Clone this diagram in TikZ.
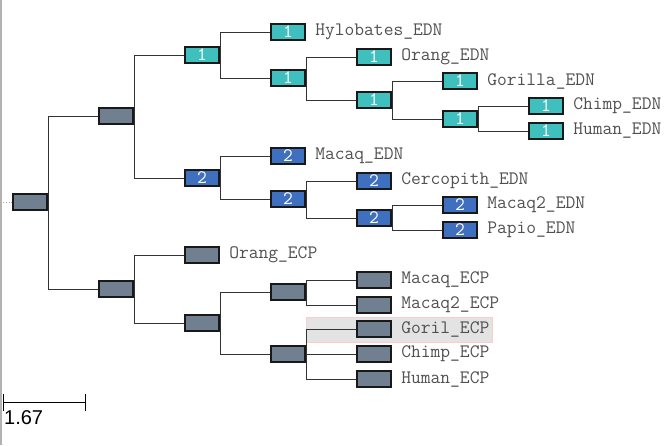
\documentclass[tikz,border=0pt]{standalone}
\usepackage{fontspec}
\setsansfont{Liberation Sans}
\usetikzlibrary{arrows.meta,positioning}
\definecolor{TreeTeal}{HTML}{40BFBF}
\definecolor{TreeBlue}{HTML}{3F6FBF}
\definecolor{TreeSlate}{HTML}{708090}
\definecolor{TreeLabel}{HTML}{505050}

\begin{document}
\begin{tikzpicture}[x=1pt,y=-1pt,node distance=9pt,every node/.style={font=\ttfamily}]
    \tikzset{gene/.style={draw=black!90,line width=1.6pt,minimum width=34.5pt,minimum height=16.5pt,
      inner sep=0pt,text=white,font=\ttfamily\fontsize{19}{19}\selectfont},
      ednone/.style={gene,fill=TreeTeal},
      edntwo/.style={gene,fill=TreeBlue},
      plain/.style={gene,fill=TreeSlate},
      leaflabel/.style={inner sep=0pt,text=TreeLabel,font=\ttfamily\fontsize{19}{19}\selectfont},
      branch/.style={draw=black!80,line width=0.9pt}}
    \useasboundingbox (0,0) rectangle (668,445);
    \draw[black!30,line width=1.5pt] (0.75,0) -- (0.75,445);
    % selected leaf
    \draw[fill=black!11,draw=red!20,line width=0.8pt] (306,317) rectangle (492,342);
    % inner nodes
    \node[plain] (root) at (30,202) {};
    \node[plain] (ednc) at (116,116) {};
    \node[plain] (ecpc) at (116,289) {};
    \node[ednone] (t1) at (202,55) {1};
    \node[ednone] (t1b) at (288,78) {1};
    \node[ednone] (t1c) at (374,100) {1};
    \node[ednone] (t1d) at (460,119) {1};
    \node[edntwo] (b2) at (202,178) {2};
    \node[edntwo] (b2b) at (288,199) {2};
    \node[edntwo] (b2c) at (374,218) {2};
    \node[plain] (g1) at (202,323) {};
    \node[plain] (g2) at (288,292) {};
    \node[plain] (g3) at (288,354) {};
    % leaves
    \node[ednone] (hylo) at (288,32) {1};
    \node[ednone] (orangE) at (374,57) {1};
    \node[ednone] (goriE) at (460,81) {1};
    \node[ednone] (chimpE) at (546,106) {1};
    \node[ednone] (humanE) at (546,131) {1};
    \node[edntwo] (macaqE) at (288,156) {2};
    \node[edntwo] (cercoE) at (374,181) {2};
    \node[edntwo] (macaqtwoE) at (460,205) {2};
    \node[edntwo] (papioE) at (460,230) {2};
    \node[plain] (orangC) at (202,255) {};
    \node[plain] (macaqC) at (374,280) {};
    \node[plain] (macaqtwoC) at (374,305) {};
    \node[plain] (gorilC) at (374,329) {};
    \node[plain] (chimpC) at (374,354) {};
    \node[plain] (humanC) at (374,379) {};
    \foreach \n/\t in {hylo/Hylobates\_EDN,orangE/Orang\_EDN,goriE/Gorilla\_EDN,chimpE/Chimp\_EDN,
      humanE/Human\_EDN,macaqE/Macaq\_EDN,cercoE/Cercopith\_EDN,macaqtwoE/Macaq2\_EDN,papioE/Papio\_EDN,
      orangC/Orang\_ECP,macaqC/Macaq\_ECP,macaqtwoC/Macaq2\_ECP,gorilC/Goril\_ECP,chimpC/Chimp\_ECP,humanC/Human\_ECP}
      {\node[leaflabel,right=of \n] (\n-l) {\t};}
    \foreach \p/\c in {root/ednc,root/ecpc,ednc/t1,ednc/b2,t1/hylo,t1/t1b,t1b/orangE,t1b/t1c,t1c/goriE,t1c/t1d,
      t1d/chimpE,t1d/humanE,b2/macaqE,b2/b2b,b2b/cercoE,b2b/b2c,b2c/macaqtwoE,b2c/papioE,ecpc/orangC,ecpc/g1,
      g1/g2,g1/g3,g2/macaqC,g2/macaqtwoC,g3/gorilC,g3/chimpC,g3/humanC}
      {\draw[branch] (\p.east) |- (\c.west);}
    \coordinate (stub) at (3,202);
    \draw[black!35,dotted,line width=0.8pt] (stub) -- (root.west);
    % scale bar
    \coordinate (sb0) at (3,402);
    \coordinate (sb1) at (86,402);
    \draw[line width=0.9pt,{Bar[width=17pt]}-{Bar[width=17pt]}] (sb0) -- (sb1);
    \node[font=\sffamily\fontsize{20}{20}\selectfont,inner sep=0pt,anchor=north west] (sblabel) at (4,410) {1.67};
  \end{tikzpicture}
\end{document}
